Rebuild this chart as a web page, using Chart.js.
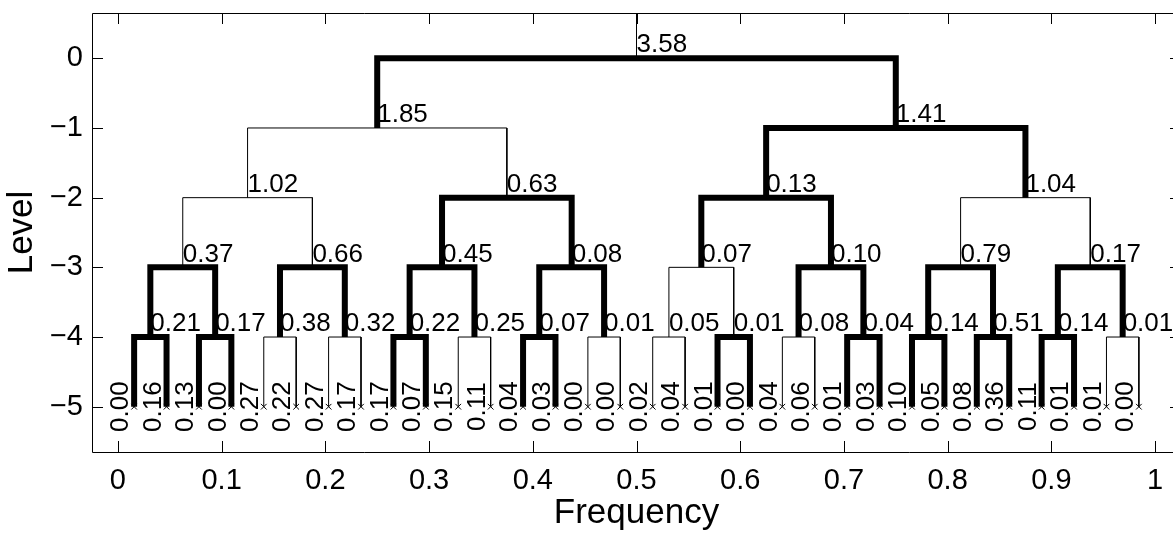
<!DOCTYPE html>
<html>
<head>
<meta charset="utf-8">
<title>Wavelet packet tree</title>
<script src="https://cdn.jsdelivr.net/npm/chart.js@4"></script>
<style>
  html, body { margin: 0; padding: 0; background: #fff; overflow: hidden; }
  #wrap { width: 1190px; height: 535px; }
</style>
</head>
<body>
<div id="wrap"><canvas id="chartTree" width="1190" height="535"></canvas></div>
<script>
// node cost per decomposition level (level 0 = root, level 5 = leaves)
const costL0 = [3.58];
const costL1 = [1.85, 1.41];
const costL2 = [1.02, 0.63, 0.13, 1.04];
const costL3 = [0.37, 0.66, 0.45, 0.08, 0.07, 0.10, 0.79, 0.17];
const costL4 = [0.21, 0.17, 0.38, 0.32, 0.22, 0.25, 0.07, 0.01,
                0.05, 0.01, 0.08, 0.04, 0.14, 0.51, 0.14, 0.01];
const costL5 = [0.00, 0.16, 0.13, 0.00, 0.27, 0.22, 0.27, 0.17,
                0.17, 0.07, 0.15, 0.11, 0.04, 0.03, 0.00, 0.00,
                0.02, 0.04, 0.01, 0.00, 0.04, 0.06, 0.01, 0.03,
                0.10, 0.05, 0.08, 0.36, 0.11, 0.01, 0.01, 0.00];

// 1 = split kept in the best tree (heavy line), 0 = plain split
const bestL0 = [1];
const bestL1 = [0, 1];
const bestL2 = [0, 1, 1, 0];
const bestL3 = [1, 1, 1, 1, 0, 1, 1, 1];
const bestL4 = [1, 1, 0, 0, 1, 0, 1, 0, 0, 1, 0, 1, 1, 1, 1, 0];

const xTicks = [0, 0.1, 0.2, 0.3, 0.4, 0.5, 0.6, 0.7, 0.8, 0.9, 1];
const yTicks = [0, -1, -2, -3, -4, -5];

const costs = [costL0, costL1, costL2, costL3, costL4, costL5];
const best = [bestL0, bestL1, bestL2, bestL3, bestL4];

const FONT = "'Liberation Sans', Arial, Helvetica, sans-serif";

// frequency centre of node i at depth j
function center(j, i){ return (i + 0.5) / Math.pow(2, j); }

const datasets = [];

// stem above the root
datasets.push({
  data: [{x: 0.5, y: 0}, {x: 0.5, y: 1}],
  borderWidth: 1, order: 2
});

// one inverted U per split: horizontal at the node level, verticals down to the children
best.forEach((row, j) => {
  row.forEach((b, i) => {
    const c = center(j, i);
    const q = 1 / Math.pow(2, j + 2);
    datasets.push({
      data: [
        {x: c - q, y: -j - 1}, {x: c - q, y: -j},
        {x: c + q, y: -j}, {x: c + q, y: -j - 1}
      ],
      borderWidth: b ? 6 : 1,
      order: b ? 1 : 2
    });
  });
});

// leaf markers
datasets.push({
  data: costL5.map((v, i) => ({x: center(5, i), y: -5})),
  showLine: false,
  pointStyle: 'crossRot',
  pointRadius: 4,
  pointBorderWidth: 1,
  order: 0
});

datasets.forEach(d => {
  d.borderColor = '#000';
  d.backgroundColor = '#000';
  d.pointBorderColor = '#000';
  if(d.showLine === undefined){
    d.showLine = true;
    d.pointRadius = 0;
    d.borderJoinStyle = 'miter';
    d.borderCapStyle = 'butt';
  }
});

// node values, drawn under the tree lines
const nodeLabels = {
  id: 'nodeLabels',
  beforeDatasetsDraw(chart){
    const {ctx, scales: {x, y}} = chart;
    ctx.save();
    ctx.fillStyle = '#000';
    ctx.font = "26px " + FONT;
    for(let j = 0; j < 5; j++){
      ctx.textAlign = 'left';
      ctx.textBaseline = 'bottom';
      costs[j].forEach((v, i) => {
        ctx.fillText(v.toFixed(2), x.getPixelForValue(center(j, i)), y.getPixelForValue(-j));
      });
    }
    costL5.forEach((v, i) => {
      ctx.save();
      ctx.translate(x.getPixelForValue(center(5, i)), y.getPixelForValue(-5));
      ctx.rotate(-Math.PI / 2);
      ctx.textAlign = 'center';
      ctx.textBaseline = 'bottom';
      ctx.fillText(v.toFixed(2), 0, 0);
      ctx.restore();
    });
    ctx.restore();
  }
};

// axes box with inward ticks on all four sides
const axesBox = {
  id: 'axesBox',
  afterDraw(chart){
    const {ctx, chartArea: a, scales: {x, y}} = chart;
    const tl = 11;
    ctx.save();
    ctx.strokeStyle = '#000';
    ctx.lineWidth = 1;
    ctx.beginPath();
    ctx.rect(a.left + 0.5, a.top + 0.5, a.right - a.left, a.bottom - a.top);
    xTicks.forEach(v => {
      const px = Math.round(x.getPixelForValue(v)) + 0.5;
      ctx.moveTo(px, a.bottom); ctx.lineTo(px, a.bottom - tl);
      ctx.moveTo(px, a.top); ctx.lineTo(px, a.top + tl);
    });
    yTicks.forEach(v => {
      const py = Math.round(y.getPixelForValue(v)) + 0.5;
      ctx.moveTo(a.left, py); ctx.lineTo(a.left + tl, py);
      ctx.moveTo(a.right, py); ctx.lineTo(a.right - tl, py);
    });
    ctx.stroke();
    ctx.restore();
  }
};

new Chart(document.getElementById('chartTree'), {
  type: 'scatter',
  data: { datasets },
  options: {
    responsive: false,
    animation: false,
    devicePixelRatio: 1,
    layout: { padding: { left: 0, top: 13, right: 9, bottom: 0 } },
    plugins: { legend: { display: false }, tooltip: { enabled: false } },
    scales: {
      x: {
        type: 'linear', min: -0.025, max: 1.025,
        grid: { display: false, drawTicks: false },
        border: { display: false },
        afterBuildTicks: s => { s.ticks = xTicks.map(v => ({ value: v })); },
        afterFit: s => { s.height = 83; s.paddingLeft = 0; s.paddingRight = 0; },
        ticks: {
          font: { family: FONT, size: 29 }, color: '#000',
          padding: 12, maxRotation: 0, autoSkip: false,
          callback: v => String(v)
        },
        title: {
          display: true, text: 'Frequency', color: '#000',
          font: { family: FONT, size: 35 },
          padding: { top: 0, bottom: 1 }
        }
      },
      y: {
        type: 'linear', min: -5.65, max: 0.65,
        grid: { display: false, drawTicks: false },
        border: { display: false },
        afterBuildTicks: s => { s.ticks = yTicks.map(v => ({ value: v })); },
        afterFit: s => { s.width = 92; s.paddingTop = 0; s.paddingBottom = 0; },
        ticks: {
          font: { family: FONT, size: 29 }, color: '#000',
          padding: 9, autoSkip: false,
          callback: v => v < 0 ? '\u2212' + Math.abs(v) : String(v)
        },
        title: {
          display: true, text: 'Level', color: '#000',
          font: { family: FONT, size: 35 },
          padding: { top: 1, bottom: 0 }
        }
      }
    }
  },
  plugins: [nodeLabels, axesBox]
});
</script>
</body>
</html>
